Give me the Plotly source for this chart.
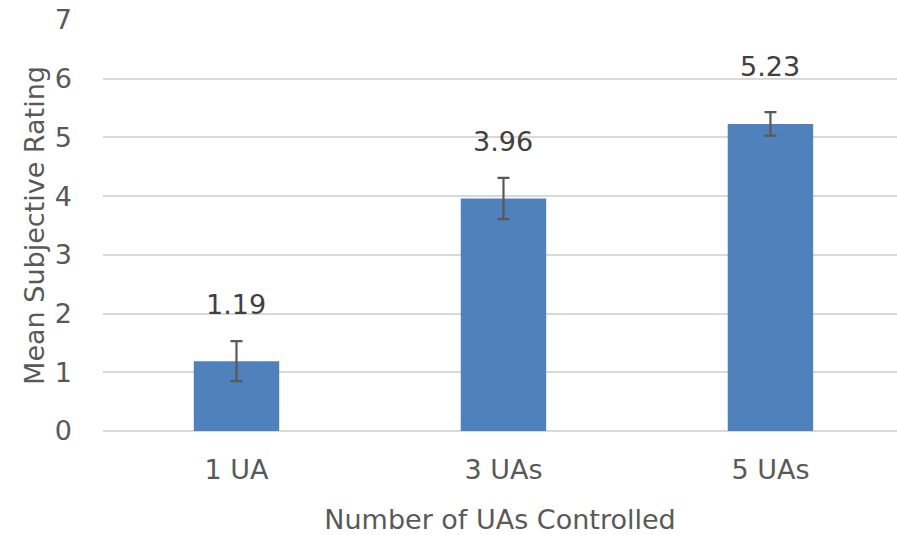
import plotly.graph_objects as go

categories = ["1 UA", "3 UAs", "5 UAs"]
means = [1.19, 3.96, 5.23]
errors = [0.34, 0.35, 0.20]
labels = ["1.19", "3.96", "5.23"]

fig = go.Figure()
fig.add_trace(go.Bar(
    x=categories, y=means,
    marker=dict(color="#4F81BD", line=dict(width=0)),
    error_y=dict(type="data", array=errors, visible=True,
                 color="#595959", thickness=2.2, width=6),
    width=0.32,
))
for c, m, t in zip(categories, means, labels):
    fig.add_annotation(x=c, y=m, text=t, showarrow=False,
                       yanchor="middle", yshift=57,
                       font=dict(size=27, color="#404040"))

font_family = "DejaVu Sans, Open Sans, sans-serif"
fig.update_layout(
    width=897, height=535,
    margin=dict(l=103, r=0, t=20, b=104),
    paper_bgcolor="white", plot_bgcolor="white",
    font=dict(family=font_family, color="#595959"),
    showlegend=False,
    xaxis=dict(
        range=[-0.5, 2.474],
        tickfont=dict(size=27, color="#595959"),
        title=dict(text="Number of UAs Controlled", font=dict(size=27, color="#595959"), standoff=28),
        showgrid=False, showline=False, ticks="",
        ticklabelstandoff=20,
    ),
    yaxis=dict(
        range=[0, 7], dtick=1,
        tickfont=dict(size=27, color="#595959"),
        title=dict(text="Mean Subjective Rating", font=dict(size=27, color="#595959"), standoff=2),
        showgrid=True, gridcolor="#D9D9D9", gridwidth=1.5,
        zeroline=True, zerolinecolor="#D9D9D9", zerolinewidth=1.5,
        ticklabelstandoff=30, ticklabeloverflow="allow",
    ),
)
fig.write_html("out.html", config={"displayModeBar": False},
               post_script="document.body.style.margin='0';document.body.style.overflow='hidden';")
